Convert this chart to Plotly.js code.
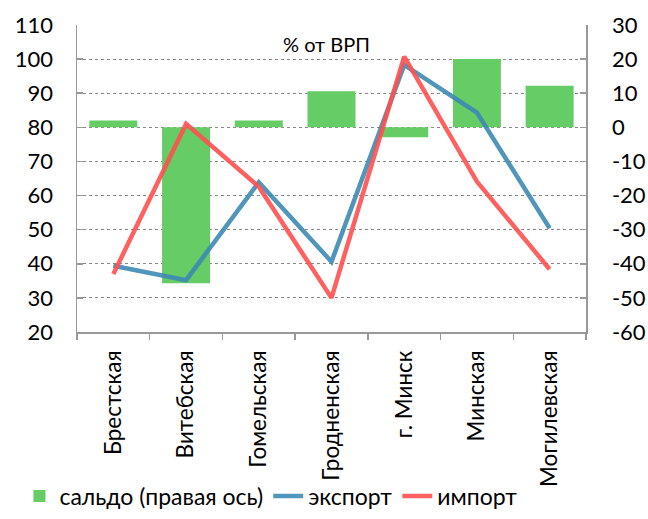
<!DOCTYPE html>
<html><head><meta charset="utf-8">
<script src="https://cdn.plot.ly/plotly-3.0.1.min.js"></script>
<style>html,body{margin:0;padding:0;background:#fff}#chart{width:648px;height:519px}</style>
</head><body><div id="chart"></div>
<script>
const categories = ["Брестская","Витебская","Гомельская","Гродненская","г. Минск","Минская","Могилевская"];
const saldo = [2, -45.7, 2, 10.6, -2.9, 20, 12.2];
const exportVals = [39.4, 35.2, 63.9, 40.6, 98.3, 84.3, 50.4];
const importVals = [37, 81, 62.6, 30, 100.7, 64.1, 38.4];
const leftTicks = [20,30,40,50,60,70,80,90,100,110];
const rightTicks = [-60,-50,-40,-30,-20,-10,0,10,20,30];
const rightTickText = ["-60","-50","-40","-30","-20","-10","0","10","20","30"];

const FONT = "Lato, 'Open Sans', sans-serif";
const traces = [
  {type:'bar', x:categories, y:saldo, name:'сальдо (правая ось)', yaxis:'y',
   marker:{color:'#66cc66'}},
  {type:'scatter', mode:'lines', x:categories, y:exportVals, name:'экспорт', yaxis:'y2',
   line:{color:'#3d89b3', width:4.5}, opacity:0.9},
  {type:'scatter', mode:'lines', x:categories, y:importVals, name:'импорт', yaxis:'y2',
   line:{color:'#ff5050', width:4.5}, opacity:0.9}
];
const layout = {
  width:648, height:519,
  margin:{l:77, r:62, t:25, b:187},
  paper_bgcolor:'#fff', plot_bgcolor:'#fff',
  font:{family:FONT, size:22, color:'#000'},
  bargap:0.34,
  showlegend:true,
  legend:{orientation:'h', xref:'container', yref:'container', x:0.03, xanchor:'left', y:0.003, yanchor:'bottom',
          font:{size:23}, itemwidth:30, tracegroupgap:0, bgcolor:'rgba(0,0,0,0)'},
  xaxis:{type:'category', tickangle:-90, showline:true, linecolor:'#999', linewidth:1.5,
         ticks:'outside', tickson:'boundaries', ticklen:6, tickcolor:'#999', tickwidth:1.5,
         ticklabelstandoff:8, automargin:false,
         showgrid:false, tickfont:{size:22.5}},
  yaxis:{side:'right', range:[-60,30], tickvals:rightTicks, ticktext:rightTickText, showline:true, linecolor:'#999', linewidth:1.5,
         showgrid:true, gridcolor:'#888', griddash:'dot', gridwidth:1.2, zeroline:false,
         ticks:'inside', ticklen:6, tickcolor:'#999', tickwidth:1.5, ticklabelstandoff:20, automargin:false,
         tickfont:{size:22}},
  yaxis2:{side:'left', overlaying:'y', range:[20,110], tickvals:leftTicks, showline:true, linecolor:'#999', linewidth:1.5,
          showgrid:false, zeroline:false, ticks:'inside', ticklen:6, tickcolor:'#999', tickwidth:1.5,
          ticklabelstandoff:18, automargin:false, tickfont:{size:22}},
  annotations:[{text:'% от ВРП', xref:'paper', yref:'paper', x:0.491, y:0.937, xanchor:'center', yanchor:'middle',
                showarrow:false, font:{size:20, family:FONT}}]
};
Plotly.newPlot('chart', traces, layout, {displayModeBar:false, staticPlot:true});
</script></body></html>
